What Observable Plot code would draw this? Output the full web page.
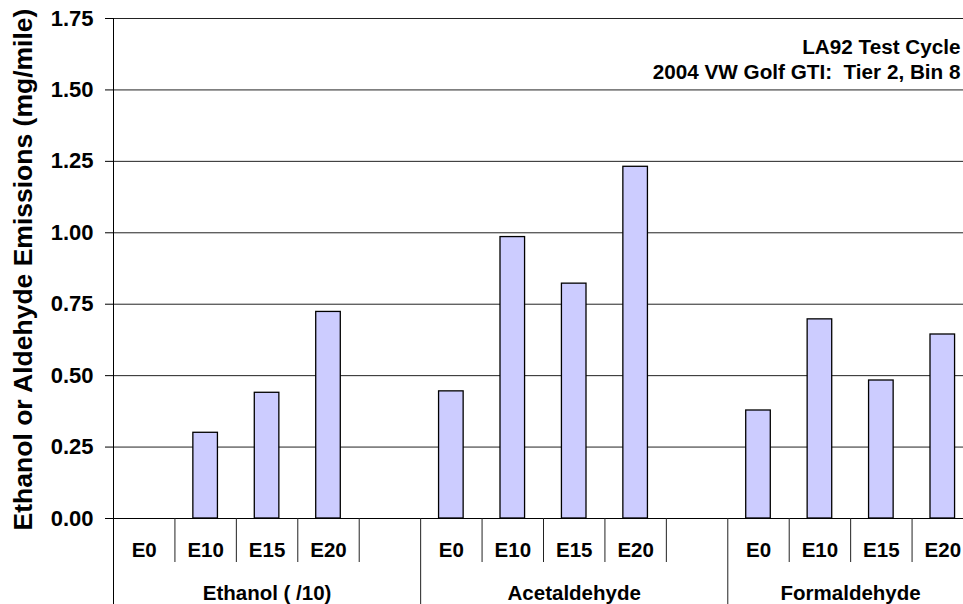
<!DOCTYPE html>
<html>
<head>
<meta charset="utf-8">
<script src="https://cdn.jsdelivr.net/npm/d3@7"></script>
<script src="https://cdn.jsdelivr.net/npm/@observablehq/plot@0.6"></script>
<style>
  html, body { margin: 0; padding: 0; background: #fff; overflow: hidden; }
</style>
</head>
<body>
<div id="chart"></div>
<script>
const groups = ["Ethanol ( /10)", "Acetaldehyde", "Formaldehyde"];
const fuels = ["E0", "E10", "E15", "E20"];
const ethanol = [0, 0.30, 0.44, 0.723];
const acetaldehyde = [0.445, 0.985, 0.822, 1.231];
const formaldehyde = [0.378, 0.697, 0.483, 0.644];
const yTicks = [0, 0.25, 0.5, 0.75, 1.0, 1.25, 1.5, 1.75];
const titleLines = ["LA92 Test Cycle", "2004 VW Golf GTI:  Tier 2, Bin 8"];
const yTitle = "Ethanol or Aldehyde Emissions (mg/mile)";

const seriesValues = [ethanol, acetaldehyde, formaldehyde];
const slotsPerGroup = fuels.length + 1;
const totalSlots = groups.length * slotsPerGroup - 1;

const bars = [];
groups.forEach((g, gi) => fuels.forEach((f, fi) => {
  bars.push({group: g, fuel: f, slot: gi * slotsPerGroup + fi, value: seriesValues[gi][fi]});
}));
const groupInfo = groups.map((g, gi) => {
  const start = gi * slotsPerGroup;
  const end = Math.min(start + slotsPerGroup, totalSlots);
  return {group: g, start, center: (start + end) / 2};
});
const innerSeps = [];
for (let i = 1; i < totalSlots; i++) if (i % slotsPerGroup !== 0) innerSeps.push(i);

const font = "Arial, 'Liberation Sans', sans-serif";

const chart = Plot.plot({
  width: 963,
  height: 604,
  marginLeft: 113,
  marginRight: 0,
  marginTop: 18,
  marginBottom: 86,
  style: {fontFamily: font, background: "#fff", color: "#000"},
  x: {type: "linear", domain: [0, totalSlots], range: [113, 973], axis: null},
  y: {domain: [0, 1.75], axis: null},
  marks: [
    Plot.ruleY(yTicks, {y: d => d, stroke: "#222", strokeWidth: 1}),
    Plot.rectY(bars, {x1: d => d.slot + 0.3, x2: d => d.slot + 0.7, y1: 0, y2: "value",
      fill: "#CCCCFF", stroke: "#000", strokeWidth: 1.3}),
    Plot.ruleY([0], {stroke: "#000", strokeWidth: 1}),
    Plot.axisY({ticks: yTicks, tickFormat: d3.format(".2f"), tickSize: 8, tickPadding: 12,
      fontSize: 22, fontWeight: "bold", label: null, stroke: "#000"}),
    Plot.ruleX([0], {stroke: "#000", strokeWidth: 1, insetBottom: -86}),
    Plot.ruleX(innerSeps, {x: d => d, y1: 0, y2: 0, insetBottom: -44, stroke: "#222"}),
    Plot.ruleX(groupInfo.filter(d => d.start > 0), {x: "start", y1: 0, y2: 0, insetBottom: -86, stroke: "#222"}),
    Plot.text(bars, {x: d => d.slot + 0.5, y: 0, text: "fuel", dy: 32, fontSize: 20.5, fontWeight: "bold", fill: "#000"}),
    Plot.text(groupInfo, {x: "center", y: 0, text: "group", dy: 75, fontSize: 20.5, fontWeight: "bold", fill: "#000"}),
    Plot.text([titleLines[0]], {frameAnchor: "top-right", text: d => d, textAnchor: "end", lineAnchor: "middle",
      dx: -3, dy: 28.7, fontSize: 20.7, fontWeight: "bold", fill: "#000"}),
    Plot.text([titleLines[1]], {frameAnchor: "top-right", text: d => d, textAnchor: "end", lineAnchor: "middle",
      dx: -3, dy: 53.7, fontSize: 20.7, fontWeight: "bold", fill: "#000"}),
    Plot.text([yTitle], {frameAnchor: "left", text: d => d, rotate: -90, dx: -89.5, dy: 1,
      textAnchor: "middle", lineAnchor: "middle",
      fontSize: 26.5, fontWeight: "bold", fill: "#000"})
  ]
});
document.getElementById("chart").append(chart);
</script>
</body>
</html>
